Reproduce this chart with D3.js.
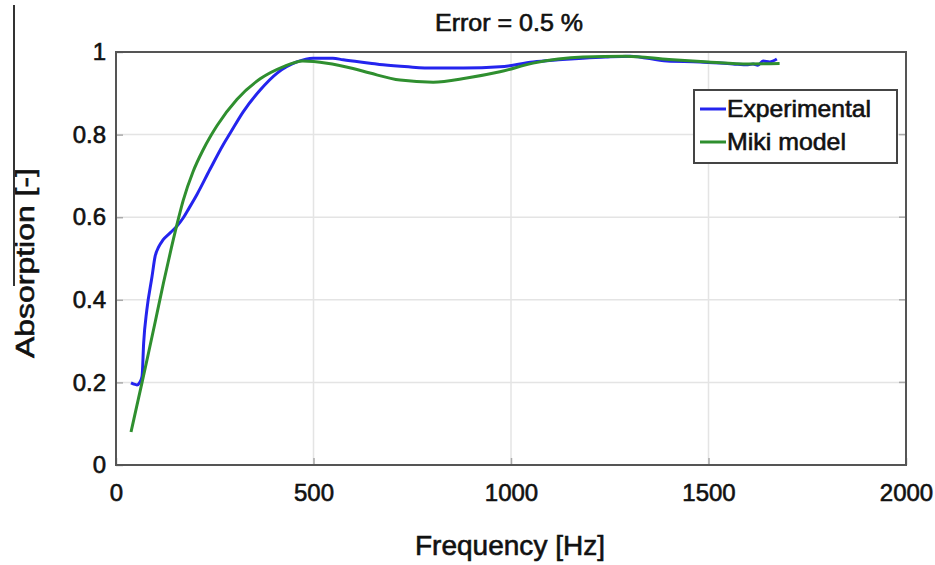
<!DOCTYPE html>
<html>
<head>
<meta charset="utf-8">
<script src="https://cdn.jsdelivr.net/npm/d3@7"></script>
<style>
  body { margin: 0; background: #fff; }
  text { font-family: "Liberation Sans", Arial, sans-serif; fill: #111; stroke: #111; stroke-width: 0.6px; }
</style>
</head>
<body>
<div id="chart"></div>
<script>
// values
const expFreq = [38, 45, 53, 60, 66, 70, 78, 91, 99, 108, 119, 137, 154, 170, 185, 205, 238, 271, 290, 322, 365, 408, 458, 499, 549, 575, 643, 676, 740, 803, 880, 972, 1056, 1120, 1182, 1240, 1301, 1395, 1478, 1562, 1600, 1613, 1625, 1638, 1655, 1673];
const expAbs = [0.199, 0.196, 0.194, 0.2, 0.215, 0.295, 0.375, 0.455, 0.505, 0.528, 0.545, 0.562, 0.578, 0.598, 0.622, 0.655, 0.716, 0.775, 0.805, 0.855, 0.908, 0.949, 0.976, 0.985, 0.985, 0.981, 0.973, 0.969, 0.964, 0.961, 0.961, 0.964, 0.976, 0.981, 0.985, 0.988, 0.99, 0.978, 0.976, 0.971, 0.969, 0.971, 0.968, 0.978, 0.976, 0.983];

const mikiFreq = [38, 52, 66, 82, 100, 120, 140, 159, 170, 195, 220, 240, 256, 306, 365, 423, 473, 534, 600, 643, 719, 803, 888, 972, 1056, 1182, 1290, 1400, 1500, 1600, 1680];
const mikiAbs = [0.08, 0.14, 0.2, 0.27, 0.35, 0.44, 0.525, 0.6, 0.64, 0.71, 0.762, 0.797, 0.822, 0.885, 0.935, 0.964, 0.978, 0.973, 0.96, 0.949, 0.932, 0.927, 0.937, 0.952, 0.973, 0.988, 0.99, 0.982, 0.976, 0.971, 0.972];

const xTicks = [0, 500, 1000, 1500, 2000];
const yTicks = [0, 0.2, 0.4, 0.6, 0.8, 1];
const seriesNames = ["Experimental", "Miki model"];
const seriesColors = ["#2424ee", "#2f8f2f"];

const width = 935, height = 565;
const margin = { left: 116, top: 52, right: 29, bottom: 100 };

const svg = d3.select("#chart")
    .append("svg")
    .attr("width", width)
    .attr("height", height);

const x = d3.scaleLinear().domain([0, 2000]).range([margin.left, width - margin.right]);
const y = d3.scaleLinear().domain([0, 1]).range([height - margin.bottom, margin.top]);

// grid
svg.append("g")
    .selectAll("line")
    .data(xTicks.slice(1, -1))
    .enter().append("line")
    .attr("x1", d => x(d)).attr("x2", d => x(d))
    .attr("y1", y(1)).attr("y2", y(0))
    .attr("stroke", "#e4e4e4").attr("stroke-width", 1.5);

svg.append("g")
    .selectAll("line")
    .data(yTicks.slice(1, -1))
    .enter().append("line")
    .attr("x1", x(0)).attr("x2", x(2000))
    .attr("y1", d => y(d)).attr("y2", d => y(d))
    .attr("stroke", "#e4e4e4").attr("stroke-width", 1.5);

// axes, ticks pointing inward
const xAxis = d3.axisBottom(x).tickValues(xTicks).tickSize(-7).tickPadding(14).tickFormat(d3.format("d"));
const yAxis = d3.axisLeft(y).tickValues(yTicks).tickSize(-7).tickPadding(10).tickFormat(d => d === 0 || d === 1 ? d : d3.format(".1f")(d));

const gx = svg.append("g").attr("transform", `translate(0,${y(0)})`).call(xAxis);
const gy = svg.append("g").attr("transform", `translate(${x(0)},0)`).call(yAxis);

[gx, gy].forEach(g => {
    g.select(".domain").remove();
    g.selectAll(".tick line").attr("stroke", "#aaa").attr("stroke-width", 1.5);
    g.selectAll("text").style("font-size", "24px").attr("fill", "#111");
});
gx.selectAll("text").attr("dy", "0.9em");

// right side ticks
svg.append("g")
    .selectAll("line")
    .data(yTicks)
    .enter().append("line")
    .attr("x1", x(2000)).attr("x2", x(2000) - 7)
    .attr("y1", d => y(d)).attr("y2", d => y(d))
    .attr("stroke", "#aaa").attr("stroke-width", 1.5);

// box
svg.append("rect")
    .attr("x", x(0)).attr("y", y(1))
    .attr("width", x(2000) - x(0)).attr("height", y(0) - y(1))
    .attr("fill", "none").attr("stroke", "#555").attr("stroke-width", 2);

// curves
const line = d3.line()
    .x(d => x(d[0]))
    .y(d => y(d[1]))
    .curve(d3.curveMonotoneX);

const series = [
    d3.zip(expFreq, expAbs),
    d3.zip(mikiFreq, mikiAbs)
];

svg.append("g")
    .selectAll("path")
    .data(series)
    .enter().append("path")
    .attr("d", line)
    .attr("fill", "none")
    .attr("stroke", (d, i) => seriesColors[i])
    .attr("stroke-width", 3)
    .attr("stroke-linejoin", "round");

// title
svg.append("text")
    .attr("x", 509).attr("y", 31)
    .attr("text-anchor", "middle")
    .attr("textLength", 148).attr("lengthAdjust", "spacingAndGlyphs")
    .style("font-size", "23px")
    .text("Error = 0.5 %");

// axis labels
svg.append("text")
    .attr("x", 510).attr("y", 555)
    .attr("text-anchor", "middle")
    .attr("textLength", 190).attr("lengthAdjust", "spacingAndGlyphs")
    .style("font-size", "28px")
    .text("Frequency [Hz]");

svg.append("text")
    .attr("transform", "translate(34,263) rotate(-90)")
    .attr("text-anchor", "middle")
    .attr("textLength", 190).attr("lengthAdjust", "spacingAndGlyphs")
    .style("font-size", "26px")
    .text("Absorption [-]");

// stray vertical line at the left edge
svg.append("line")
    .attr("x1", 14).attr("x2", 14)
    .attr("y1", 5).attr("y2", 286)
    .attr("stroke", "#333").attr("stroke-width", 2);

// legend
const legend = svg.append("g").attr("transform", "translate(694,90)");
legend.append("rect")
    .attr("width", 203).attr("height", 73)
    .attr("fill", "#fff").attr("stroke", "#444").attr("stroke-width", 2);

const item = legend.selectAll(".item")
    .data(seriesNames)
    .enter().append("g")
    .attr("transform", (d, i) => `translate(0,${19 + i * 33})`);

item.append("line")
    .attr("x1", 6).attr("x2", 32)
    .attr("stroke", (d, i) => seriesColors[i])
    .attr("stroke-width", 3);

item.append("text")
    .attr("x", 33).attr("dy", "0.35em")
    .attr("textLength", (d, i) => i === 0 ? 144 : 119)
    .attr("lengthAdjust", "spacingAndGlyphs")
    .style("font-size", "24px")
    .text(d => d);
</script>
</body>
</html>
